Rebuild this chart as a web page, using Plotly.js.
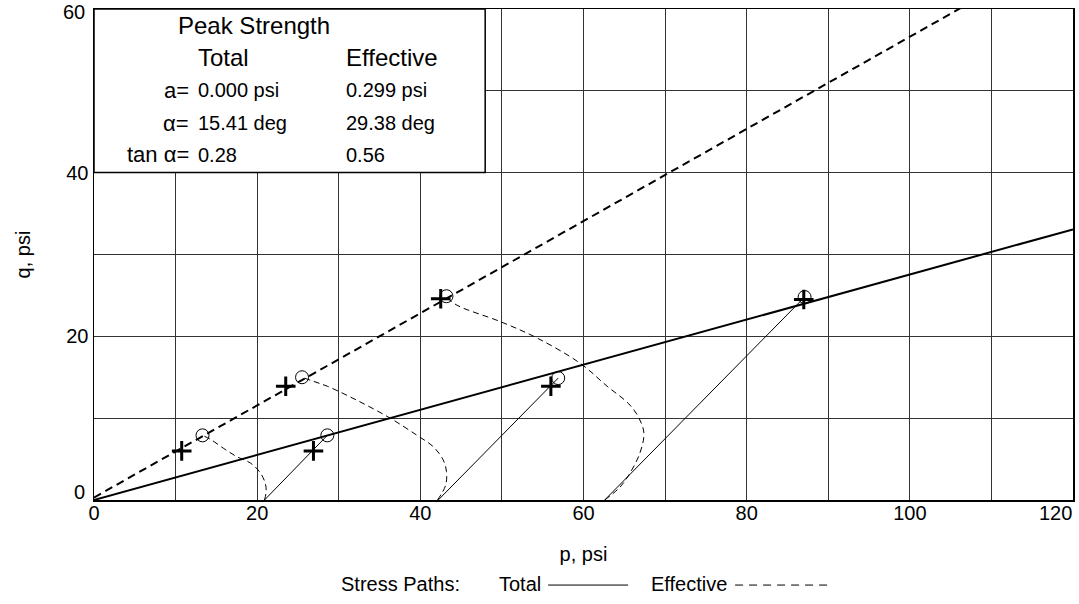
<!DOCTYPE html>
<html>
<head>
<meta charset="utf-8">
<script src="https://cdn.plot.ly/plotly-3.0.1.min.js"></script>
<style>
html,body{margin:0;padding:0;background:#fff;}
#chart{width:1079px;height:604px;}
</style>
</head>
<body>
<div id="chart"></div>
<script>
// ---- Data ----
// Failure envelopes (endpoints)
const envP = [0, 120];
const envTotalQ = [0, 33.07];
const envEffQ = [0.299, 67.87];

// Total stress paths (start -> end circle)
const tot1P = [20.9, 28.6], tot1Q = [0, 7.9];
const tot2P = [42.2, 56.9], tot2Q = [0, 14.9];
const tot3P = [62.6, 87.1], tot3Q = [0, 24.8];

// Effective stress paths
const eff1P = [20.9, 21.1, 21.0, 20.4, 19.2, 17.5, 15.9, 14.3, 13.3];
const eff1Q = [0, 1.0, 2.0, 3.3, 4.5, 5.3, 6.3, 7.4, 7.9];
const eff2P = [42.1, 43.1, 43.2, 42.8, 41.6, 39.6, 36.3, 32.2, 28.6, 26.9, 25.5];
const eff2Q = [0, 1.8, 3.5, 4.9, 6.5, 7.9, 10.0, 12.2, 13.9, 14.5, 15.0];
const eff3P = [62.6, 64.5, 65.7, 66.9, 67.4, 66.7, 65.5, 62.9, 59.6, 54.3, 49.8, 44.5, 43.2];
const eff3Q = [0, 1.6, 3.3, 5.7, 8.2, 10.2, 11.8, 13.9, 16.7, 19.8, 21.8, 23.8, 24.8];

// Peak points (+) and end points (o)
const plusP = [10.75, 23.5, 42.5, 26.9, 56.0, 87.0];
const plusQ = [6.0, 13.9, 24.6, 6.0, 13.9, 24.5];
const circP = [13.3, 25.5, 43.2, 28.6, 56.9, 87.1];
const circQ = [7.9, 15.0, 24.9, 7.9, 14.9, 24.8];

// Table text
const tableTitle = "Peak Strength";
const colHeads = ["Total", "Effective"];
const rowLabels = ["a=", "α=", "tan α="];
const totalVals = ["0.000 psi", "15.41 deg", "0.28"];
const effVals = ["0.299 psi", "29.38 deg", "0.56"];

const xTicks = [0, 20, 40, 60, 80, 100, 120];
const yTicks = [0, 20, 40, 60];

// ---- Build ----
const FONT = "Liberation Sans, Arial, sans-serif";
const K = "#000";

function line(x, y, w, dash) {
  return {x: x, y: y, type: "scatter", mode: "lines", hoverinfo: "skip",
    line: {color: K, width: w, dash: dash || "solid"}};
}
function spline(x, y) {
  return {x: x, y: y, type: "scatter", mode: "lines", hoverinfo: "skip",
    line: {color: K, width: 1, dash: "6px,4px", shape: "spline", smoothing: 1}};
}

const traces = [
  line(envP, envTotalQ, 2),
  line(envP, envEffQ, 2, "8px,5px"),
  line(tot1P, tot1Q, 1), line(tot2P, tot2Q, 1), line(tot3P, tot3Q, 1),
  spline(eff1P, eff1Q), spline(eff2P, eff2Q), spline(eff3P, eff3Q),
  {x: circP, y: circQ, type: "scatter", mode: "markers", hoverinfo: "skip",
   marker: {symbol: "circle-open", size: 13, color: K, line: {color: K, width: 1}}},
  {x: plusP, y: plusQ, type: "scatter", mode: "markers", hoverinfo: "skip",
   marker: {symbol: "cross-thin-open", size: 14, color: K, line: {color: K, width: 3}}}
];

const L = 93.7, T = 9.3, W = 979.3, H = 490.7;
function px(x) { return (x - L) / W; }
function py(y) { return (T + H - y) / H; }

const ann = [];
ann.push({text: tableTitle, x: px(253.7), y: py(26), xanchor: "center", yanchor: "middle", font: {size: 24}});
ann.push({text: colHeads[0], x: px(223.3), y: py(57.3), xanchor: "center", yanchor: "middle", font: {size: 24}});
ann.push({text: colHeads[1], x: px(345), y: py(57.3), xanchor: "left", yanchor: "middle", font: {size: 24}});
const rowY = [90.7, 123.3, 155];
for (let i = 0; i < rowLabels.length; i++) {
  ann.push({text: rowLabels[i], x: px(190), y: py(rowY[i]), xanchor: "right", yanchor: "middle", font: {size: 22}});
  ann.push({text: totalVals[i], x: px(196.7), y: py(rowY[i]), xanchor: "left", yanchor: "middle", font: {size: 20}});
  ann.push({text: effVals[i], x: px(345), y: py(rowY[i]), xanchor: "left", yanchor: "middle", font: {size: 20}});
}
// end tick labels, kept inside the page like the reference
ann.push({text: String(xTicks[xTicks.length - 1]), x: 1, y: py(513), xanchor: "right", yanchor: "middle", font: {size: 20}});
ann.push({text: String(yTicks[yTicks.length - 1]), x: px(86), y: py(0), xanchor: "right", yanchor: "top", font: {size: 20}});
ann.push({text: String(yTicks[0]), x: px(86), y: py(492), xanchor: "right", yanchor: "middle", font: {size: 20}});
// stress path key
ann.push({text: "Stress Paths:", x: px(340), y: py(584), xanchor: "left", yanchor: "middle", font: {size: 20}});
ann.push({text: "Total", x: px(498), y: py(584), xanchor: "left", yanchor: "middle", font: {size: 20}});
ann.push({text: "Effective", x: px(650), y: py(584), xanchor: "left", yanchor: "middle", font: {size: 20}});
ann.forEach(a => { a.xref = "paper"; a.yref = "paper"; a.showarrow = false; a.borderpad = 0;
  a.font = Object.assign({family: FONT, color: K}, a.font); });

const axisCommon = {
  showline: true, mirror: true, linecolor: K, linewidth: 1.5,
  showgrid: true, gridcolor: "#333", gridwidth: 1,
  zeroline: false, ticks: "", tickfont: {family: FONT, size: 20, color: K},
  ticklabeloverflow: "allow", fixedrange: true
};

const layout = {
  width: 1079, height: 604,
  margin: {l: 94, r: 6, t: 9, b: 104, pad: 0},
  paper_bgcolor: "#fff", plot_bgcolor: "#fff",
  showlegend: false,
  font: {family: FONT, color: K},
  xaxis: Object.assign({}, axisCommon, {
    range: [0, 120], tickvals: xTicks,
    ticktext: xTicks.map((v, i) => i === xTicks.length - 1 ? "" : String(v)),
    ticklabelstandoff: -6,
    minor: {dtick: 10, tick0: 0, showgrid: true, gridcolor: "#333", gridwidth: 1, ticks: ""},
    title: {text: "p, psi", font: {family: FONT, size: 20, color: K}, standoff: 24}
  }),
  yaxis: Object.assign({}, axisCommon, {
    range: [0, 60], tickvals: yTicks,
    ticktext: yTicks.map((v, i) => (i === 0 || i === yTicks.length - 1) ? "" : String(v)),
    minor: {dtick: 10, tick0: 0, showgrid: true, gridcolor: "#333", gridwidth: 1, ticks: ""},
    title: {text: "q, psi", font: {family: FONT, size: 20, color: K}, standoff: 30}
  }),
  shapes: [
    {type: "rect", xref: "paper", yref: "paper", x0: 0, x1: px(485), y0: py(172.7), y1: 1,
     fillcolor: "#fff", line: {color: K, width: 1.5}, layer: "above"},
    // key line samples
    {type: "line", xref: "paper", yref: "paper", x0: px(548), x1: px(628), y0: py(585), y1: py(585),
     line: {color: K, width: 1}},
    {type: "line", xref: "paper", yref: "paper", x0: px(735), x1: px(830), y0: py(585), y1: py(585),
     line: {color: K, width: 1, dash: "8px,6px"}}
  ],
  annotations: ann
};

Plotly.newPlot("chart", traces, layout, {displayModeBar: false, staticPlot: true});
</script>
</body>
</html>
